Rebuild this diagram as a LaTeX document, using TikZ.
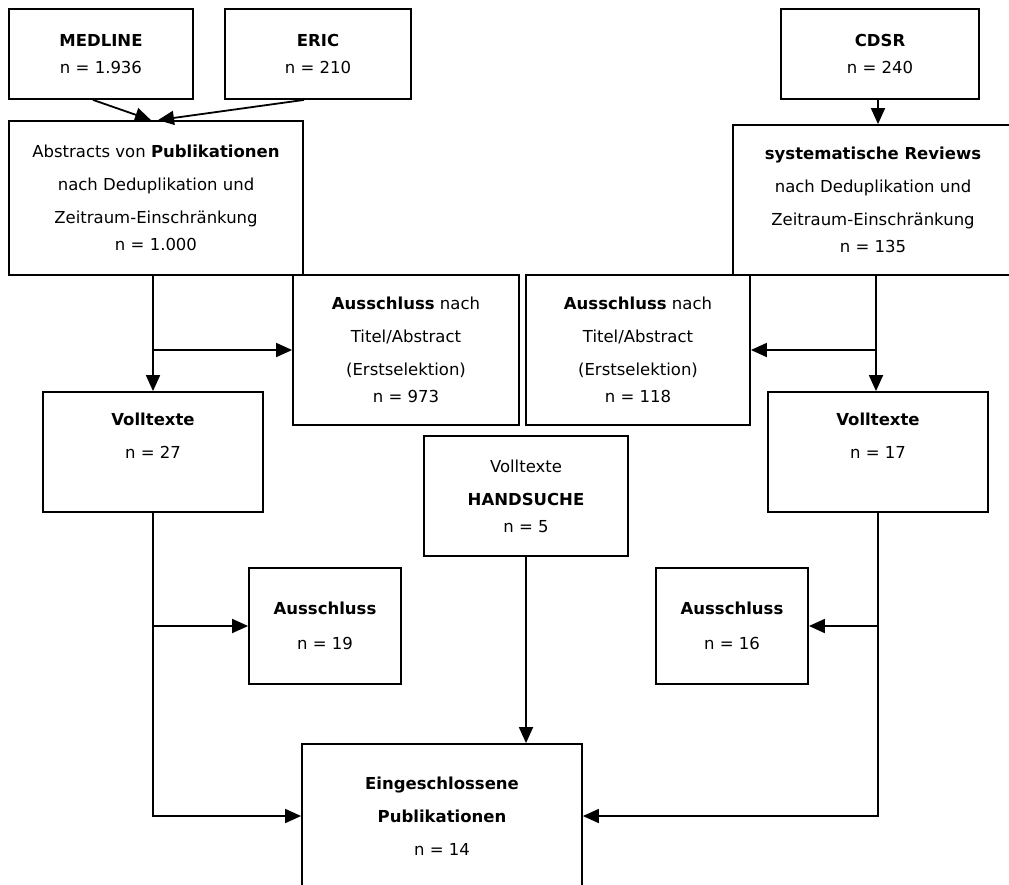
\documentclass[tikz,border=0pt]{standalone}
\usepackage{fontspec}
\setmainfont{DejaVu Sans}
\usepackage{tikz}
\usetikzlibrary{arrows.meta, positioning, calc}

\begin{document}
\begin{tikzpicture}[
    x=1pt, y=-1pt,
    box/.style={rectangle, draw, line width=1.8pt, inner sep=0pt, align=center,
        font=\fontsize{16.5}{27}\selectfont},
    arrow/.style={-{Triangle[length=16pt,width=14pt]}, line width=1.8pt}
]
\useasboundingbox (0,0) rectangle (1009,884);
\clip (0,0) rectangle (1009,884);

% sources
\node[box, minimum width=184pt, minimum height=90pt] (medline) at (101,54) {\textbf{MEDLINE}\\ n = 1.936};
\node[box, minimum width=186pt, minimum height=90pt] (eric)    at (318,54) {\textbf{ERIC}\\ n = 210};
\node[box, minimum width=198pt, minimum height=90pt] (cdsr)    at (880,54) {\textbf{CDSR}\\ n = 240};

% after deduplication
\node[box, minimum width=294pt, minimum height=154pt] (abstracts) at (156,198)
    {Abstracts von \textbf{Publikationen}\\[6pt] nach Deduplikation und\\[6pt] Zeitraum-Einschränkung\\ n = 1.000};
\node[box, minimum width=280pt, minimum height=150pt] (sysrev) at (873,200)
    {\textbf{systematische Reviews}\\[6pt] nach Deduplikation und\\[6pt] Zeitraum-Einschränkung\\ n = 135};

% first selection
\node[box, minimum width=226pt, minimum height=150pt] (ausA) at (406,350)
    {\textbf{Ausschluss} nach\\[6pt] Titel/Abstract\\[6pt] (Erstselektion)\\ n = 973};
\node[box, minimum width=224pt, minimum height=150pt] (ausB) at (638,350)
    {\textbf{Ausschluss} nach\\[6pt] Titel/Abstract\\[6pt] (Erstselektion)\\ n = 118};

% full texts
\node[box, minimum width=220pt, minimum height=120pt] (vollA) at (153,452) {\textbf{Volltexte}\\[6pt] n = 27\\[6pt] ~};
\node[box, minimum width=220pt, minimum height=120pt] (vollB) at (878,452) {\textbf{Volltexte}\\[6pt] n = 17\\[6pt] ~};
\node[box, minimum width=204pt, minimum height=120pt] (hand)  at (526,496) {Volltexte\\[6pt] \textbf{HANDSUCHE}\\ n = 5};

% second selection
\node[box, minimum width=152pt, minimum height=116pt] (ausC) at (325,626) {\textbf{Ausschluss}\\[8pt] n = 19};
\node[box, minimum width=152pt, minimum height=116pt] (ausD) at (732,626) {\textbf{Ausschluss}\\[8pt] n = 16};

% result
\node[box, minimum width=280pt, minimum height=144pt] (final) at (442,816)
    {\textbf{Eingeschlossene}\\[6pt] \textbf{Publikationen}\\[6pt] n = 14};

\draw[arrow] ([xshift=-8pt]medline.south) -- ([xshift=-5pt]abstracts.north);
\draw[arrow] ([xshift=-14pt]eric.south)   -- ([xshift=2pt]abstracts.north);
\draw[arrow] ([xshift=-2pt]cdsr.south)    -- ([xshift=-2pt]cdsr.south |- sysrev.north);

\draw[arrow] (vollA.north |- abstracts.south) -- (vollA.north);
\draw[arrow] (vollA.north |- ausA.west) -- (ausA.west);
\draw[arrow] ([xshift=-2pt]vollB.north |- sysrev.south) -- ([xshift=-2pt]vollB.north);
\draw[arrow] ([xshift=-2pt]vollB.north |- ausB.east) -- (ausB.east);

\draw[arrow] (vollA.south) |- (final.west);
\draw[arrow] (vollA.south |- ausC.west) -- (ausC.west);
\draw[arrow] (vollB.south) |- (final.east);
\draw[arrow] (vollB.south |- ausD.east) -- (ausD.east);
\draw[arrow] (hand.south) -- (hand.south |- final.north);
\end{tikzpicture}
\end{document}
